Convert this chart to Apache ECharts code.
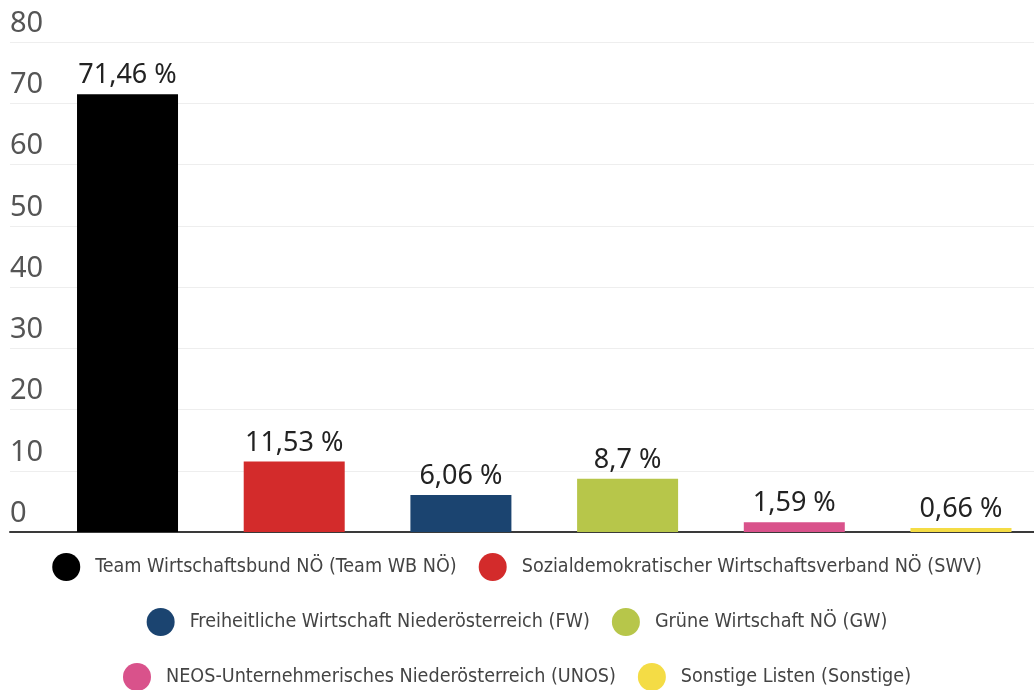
<!DOCTYPE html>
<html>
<head>
<meta charset="utf-8">
<script src="https://cdn.jsdelivr.net/npm/echarts@6/dist/echarts.min.js"></script>
<style>
  html, body { margin: 0; padding: 0; background: #fff; }
  #chart { width: 1034px; height: 690px; }
</style>
</head>
<body>
<div id="chart"></div>
<script>
var parties = [
  'Team Wirtschaftsbund NÖ (Team WB NÖ)',
  'Sozialdemokratischer Wirtschaftsverband NÖ (SWV)',
  'Freiheitliche Wirtschaft Niederösterreich (FW)',
  'Grüne Wirtschaft NÖ (GW)',
  'NEOS-Unternehmerisches Niederösterreich (UNOS)',
  'Sonstige Listen (Sonstige)'
];
var shares = [71.46, 11.53, 6.06, 8.7, 1.59, 0.66];
var colors = ['#000000', '#d32b2b', '#1b4470', '#b7c64a', '#d9528b', '#f4dc45'];
var yTicks = [0, 10, 20, 30, 40, 50, 60, 70, 80];

var chart = echarts.init(document.getElementById('chart'));

// one series per party so that each gets its own legend entry;
// x is the party's slot index on a value axis
var series = parties.map(function (name, i) {
  return {
    name: name,
    type: 'bar',
    barWidth: 101,
    barGap: '-100%',
    itemStyle: { color: colors[i] },
    label: {
      show: true,
      position: 'top',
      distance: 5,
      color: '#222',
      fontFamily: 'Noto Sans',
      fontSize: 27,
      formatter: function (p) {
        return String(p.value[1]).replace('.', ',') + ' %';
      }
    },
    data: [[i, shares[i]]]
  };
});

function legendRow(names, top) {
  return {
    top: top,
    left: 'center',
    icon: 'circle',
    itemWidth: 28,
    itemHeight: 28,
    itemGap: 22,
    selectedMode: false,
    textStyle: {
      fontFamily: 'DejaVu Sans Condensed',
      fontSize: 19.6,
      color: '#444',
      padding: [0, 0, 0, 10]
    },
    data: names
  };
}

option = {
  backgroundColor: '#fff',
  animation: false,
  grid: { left: 10, right: 0, top: 42, bottom: 158 },
  xAxis: {
    type: 'value',
    min: -0.705,
    max: 5.438,
    axisLine: { show: true, lineStyle: { color: '#3a3a3a', width: 2 } },
    axisTick: { show: false },
    axisLabel: { show: false },
    splitLine: { show: false }
  },
  yAxis: {
    type: 'value',
    min: yTicks[0],
    max: yTicks[yTicks.length - 1],
    interval: 10,
    axisLine: { show: false },
    axisTick: { show: false },
    splitLine: { lineStyle: { color: '#eeeeee', width: 1 } },
    axisLabel: {
      inside: true,
      margin: 0,
      verticalAlign: 'bottom',
      padding: [0, 0, 4, 0],
      color: '#555',
      fontFamily: 'Noto Sans',
      fontSize: 29
    }
  },
  legend: [
    legendRow(parties.slice(0, 2), 548),
    legendRow(parties.slice(2, 4), 603),
    legendRow(parties.slice(4, 6), 658)
  ],
  series: series
};

chart.setOption(option);
window.onresize = function () {
  chart.resize();
};
</script>
</body>
</html>
